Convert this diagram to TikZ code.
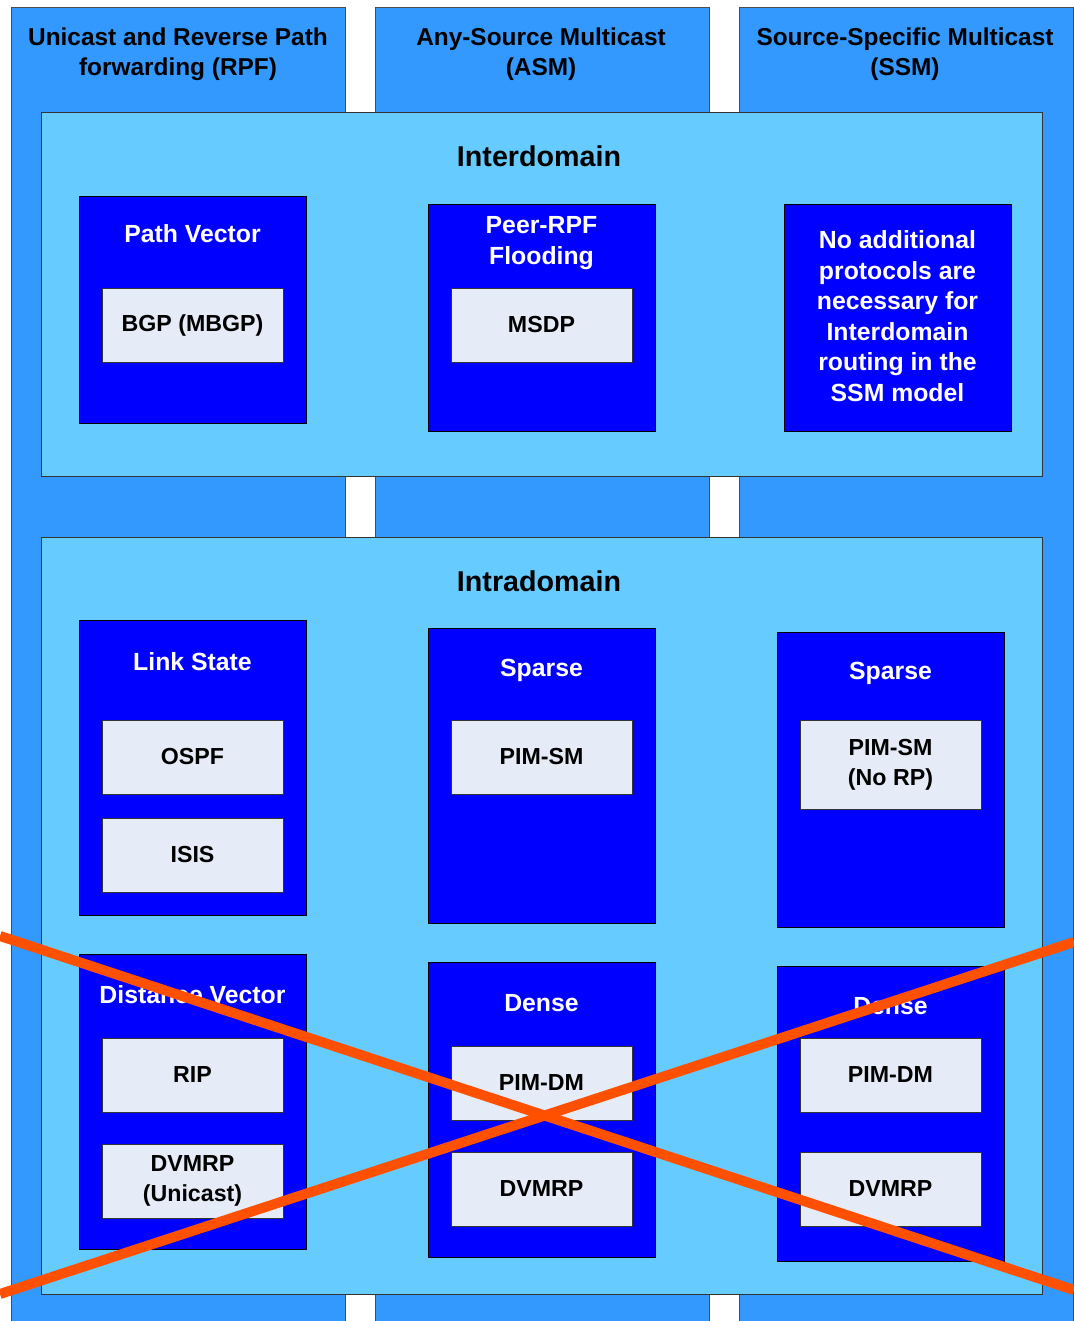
\documentclass[tikz,border=0pt]{standalone}
\usepackage{fontspec}
\setmainfont{Liberation Sans}
\usetikzlibrary{positioning}

\definecolor{colblue}{HTML}{3399FF}
\definecolor{panelblue}{HTML}{66CCFF}
\definecolor{boxblue}{HTML}{0000FF}
\definecolor{protofill}{HTML}{E6ECF7}
\definecolor{crossred}{HTML}{FF5000}

\tikzset{
  column/.style={fill=colblue, draw=black!70, line width=0.75pt},
  panel/.style={fill=panelblue, draw=black!80, line width=0.75pt},
  group/.style={fill=boxblue, draw=black, line width=0.75pt, minimum width=170.25pt, minimum height=170.25pt},
  tallgroup/.style={group, minimum height=221.25pt},
  proto/.style={fill=protofill, draw=black!80, line width=0.75pt, minimum width=135.75pt, minimum height=55.5pt,
    align=center, font=\bfseries\fontsize{17.4}{22.5}\selectfont},
  headtext/.style={align=center, font=\bfseries\fontsize{18.3}{22.5}\selectfont},
  grouptext/.style={align=center, text=white, font=\bfseries\fontsize{18.6}{22.9}\selectfont},
  paneltitle/.style={font=\bfseries\fontsize{21.5}{24}\selectfont},
  cross/.style={draw=crossred, line width=7.5pt}
}

\begin{document}
\begin{tikzpicture}[x=0.75pt, y=-0.75pt]
    \clip (0,0) rectangle (1074,1321);
    \fill[white] (0,0) rectangle (1074,1321);

    % three model columns
    \draw[column] (11,7) rectangle (345,1340);
    \draw[column] (375,7) rectangle (709,1340);
    \draw[column] (739,7) rectangle (1073,1340);
    \node[headtext] (rpf) at (178,54) {Unicast and Reverse Path\\forwarding (RPF)};
    \node[headtext] (asm) at (541,54) {Any-Source Multicast\\(ASM)};
    \node[headtext] (ssm) at (905,54) {Source-Specific Multicast\\(SSM)};

    % interdomain
    \draw[panel] (41,112) rectangle (1042,476);
    \node[paneltitle] (inter) at (539,156) {Interdomain};

    \node[group] (pv) at (192.5,309.5) {};
    \node[grouptext] (pvtitle) at (192.5,234) {Path Vector};
    \node[proto] (bgp) at (192.5,325) {BGP (MBGP)};

    \node[group] (prpf) at (541.5,317.5) {};
    \node[grouptext] (prpftitle) at (541.5,243) {Peer-RPF\\Flooding};
    \node[proto] (msdp) at (541.5,325) {MSDP};

    \node[group] (noadd) at (897.5,317.5) {};
    \node[grouptext] (noaddtext) at (897.5,316) {No additional\\protocols are\\necessary for\\Interdomain\\routing in the\\SSM model};

    % intradomain
    \draw[panel] (41,537) rectangle (1042,1294);
    \node[paneltitle] (intra) at (539,581) {Intradomain};

    \node[tallgroup] (ls) at (192.5,768) {};
    \node[grouptext] (lstitle) at (192.5,662) {Link State};
    \node[proto] (ospf) at (192.5,757) {OSPF};
    \node[proto] (isis) at (192.5,855) {ISIS};

    \node[tallgroup] (spm) at (541.5,775.5) {};
    \node[grouptext] (spmtitle) at (541.5,670) {Sparse};
    \node[proto] (pimsm) at (541.5,757) {PIM-SM};

    \node[tallgroup] (spr) at (890.5,779.5) {};
    \node[grouptext] (sprtitle) at (890.5,673) {Sparse};
    \node[proto, minimum height=66.75pt] (pimsmnorp) at (890.5,764.5) {PIM-SM\\(No RP)};

    \node[tallgroup] (dv) at (192.5,1101.5) {};
    \node[grouptext] (dvtitle) at (192.5,995) {Distance Vector};
    \node[proto] (rip) at (192.5,1075) {RIP};
    \node[proto] (dvmrpu) at (192.5,1181) {DVMRP\\(Unicast)};

    \node[tallgroup] (dm) at (541.5,1109.5) {};
    \node[grouptext] (dmtitle) at (541.5,1003) {Dense};
    \node[proto] (pimdm) at (541.5,1083) {PIM-DM};
    \node[proto] (dvmrpm) at (541.5,1189) {DVMRP};

    \node[tallgroup] (dr) at (890.5,1113.5) {};
    \node[grouptext] (drtitle) at (890.5,1006) {Dense};
    \node[proto] (pimdmr) at (890.5,1075) {PIM-DM};
    \node[proto] (dvmrpr) at (890.5,1189) {DVMRP};

    % dense and distance vector struck out
    \coordinate (xa) at (0,936);
    \coordinate (xb) at (1074,1290);
    \coordinate (xc) at (0,1294);
    \coordinate (xd) at (1074,942);
    \draw[cross] (xa) -- (xb);
    \draw[cross] (xc) -- (xd);
\end{tikzpicture}
\end{document}
